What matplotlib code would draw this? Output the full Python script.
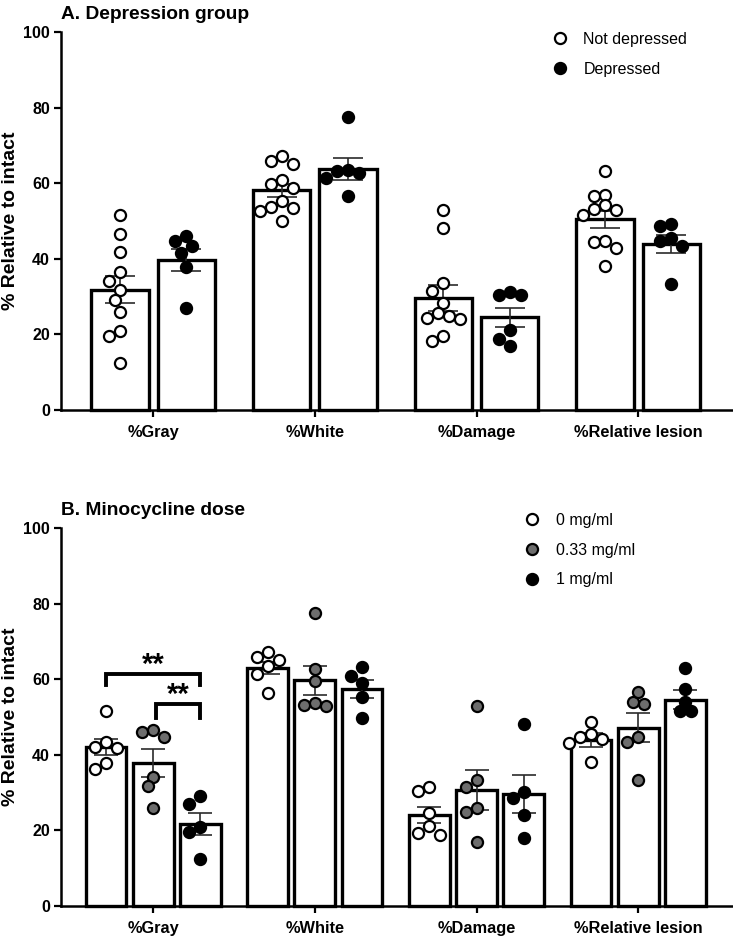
import numpy as np
import matplotlib
matplotlib.use('Agg')
import matplotlib.pyplot as plt
from matplotlib.lines import Line2D

BOLD_FAM = ['Liberation Sans', 'DejaVu Sans']
REG_FAM = ['Liberation Sans', 'DejaVu Sans']
plt.rcParams['font.family'] = REG_FAM

categories = ['%Gray', '%White', '%Damage', '%Relative lesion']
yticks = [0, 20, 40, 60, 80, 100]

# ---------------- Panel A: depression group ----------------
a_labels = ['Not depressed', 'Depressed']
a_nd_mean = [31.8, 58.1, 29.7, 50.4]
a_nd_sem = [3.6, 1.8, 3.4, 2.2]
a_d_mean = [39.7, 63.8, 24.5, 43.9]
a_d_sem = [2.9, 2.9, 2.6, 2.4]
a_nd_points = [
    [51.6, 46.6, 41.9, 36.5, 34.1, 31.7, 29.1, 25.8, 21.0, 19.7, 12.3],
    [67.3, 65.1, 65.8, 60.8, 59.9, 58.8, 55.3, 53.5, 53.7, 52.7, 50.1],
    [53.0, 48.1, 33.6, 31.4, 28.4, 25.7, 24.1, 24.3, 24.9, 18.3, 19.5],
    [63.1, 57.0, 56.5, 53.0, 51.6, 53.1, 54.1, 44.4, 42.9, 44.8, 38.2],
]
a_d_points = [
    [44.8, 46.1, 41.4, 43.5, 37.7, 26.9],
    [77.6, 63.6, 62.7, 63.3, 61.4, 56.5],
    [30.3, 31.3, 30.3, 21.2, 18.8, 17.0],
    [48.8, 49.3, 45.4, 43.5, 44.8, 33.3],
]

# ---------------- Panel B: minocycline dose ----------------
b_labels = ['0 mg/ml', '0.33 mg/ml', '1 mg/ml']
b0_mean = [42.1, 63.0, 24.1, 43.9]
b0_sem = [2.2, 1.6, 2.2, 1.9]
b033_mean = [37.9, 59.7, 30.7, 47.2]
b033_sem = [3.7, 3.9, 5.2, 3.8]
b1_mean = [21.7, 57.4, 29.6, 54.6]
b1_sem = [2.9, 2.3, 5.1, 2.5]
b0_points = [
    [51.6, 43.4, 41.7, 42.1, 37.7, 36.3],
    [65.8, 65.0, 67.2, 63.6, 61.3, 56.4],
    [30.3, 31.5, 24.5, 21.1, 18.8, 19.4],
    [48.7, 45.5, 44.3, 44.8, 43.0, 38.1],
]
b033_points = [
    [46.5, 44.8, 46.1, 34.2, 31.7, 25.8],
    [77.5, 62.7, 59.6, 53.0, 53.6, 53.3],
    [53.0, 33.4, 31.4, 25.8, 24.8, 17.0],
    [53.9, 56.5, 53.4, 44.8, 43.4, 33.3],
]
b1_points = [
    [29.1, 27.0, 21.0, 19.6, 12.3],
    [63.3, 60.9, 59.0, 55.3, 49.8],
    [48.1, 28.5, 30.2, 24.1, 18.1],
    [62.9, 57.3, 54.0, 51.5, 51.5],
]

# ---------------- figure ----------------
W, H = 733, 936
fig = plt.figure(figsize=(W / 100, H / 100), dpi=100)
axA = fig.add_axes([0.0832, 0.5620, 0.9154, 0.4038])
axB = fig.add_axes([0.0832, 0.0321, 0.9154, 0.4038])
XLIM = (-0.57, 3.58)
MS = 8.0
MEW = 1.6


def swarm(values, ax, diam_px=11.0):
    bbox = ax.get_window_extent()
    px_per_x = bbox.width / (XLIM[1] - XLIM[0])
    px_per_y = bbox.height / 100.0
    vals = np.asarray(values, dtype=float)
    order = np.argsort(-vals)
    placed = []
    offs = np.zeros(len(vals))
    cands = [0.0]
    for k in range(1, 8):
        cands += [-0.5 * k, 0.5 * k]
    for i in order:
        y = vals[i] * px_per_y
        chosen = 0.0
        for k in cands:
            ok = True
            for c, py in placed:
                if ((k - c) * diam_px) ** 2 + (y - py) ** 2 < (diam_px * 0.98) ** 2:
                    ok = False
                    break
            if ok:
                chosen = k
                break
        placed.append((chosen, y))
        offs[i] = chosen
    return offs * diam_px / px_per_x


def draw_group(ax, xs, means, sems, pts, width, face, capsize):
    ax.bar(xs, means, width=width, facecolor='white', edgecolor='black',
           linewidth=2.4, zorder=2, clip_on=False)
    ax.errorbar(xs, means, yerr=sems, fmt='none', ecolor='#2b2b2b',
                elinewidth=1.2, capsize=capsize, capthick=1.2, zorder=3)
    for x, p in zip(xs, pts):
        jit = swarm(p, ax)
        ax.plot(x + jit, p, linestyle='none', marker='o', markersize=MS,
                markerfacecolor=face, markeredgecolor='black',
                markeredgewidth=MEW, zorder=4, clip_on=False)


def style_axis(ax, title):
    ax.set_xlim(*XLIM)
    ax.set_ylim(0, 100)
    ax.set_yticks(yticks)
    ax.set_yticklabels([str(t) for t in yticks], family=BOLD_FAM,
                       fontweight='bold', fontsize=11.5)
    ax.set_xticks(np.arange(len(categories)))
    ax.set_xticklabels(categories, family=BOLD_FAM, fontweight='bold',
                       fontsize=11.8)
    for s in ['top', 'right']:
        ax.spines[s].set_visible(False)
    for s in ['left', 'bottom']:
        ax.spines[s].set_linewidth(1.8)
    ax.tick_params(axis='both', length=5, width=1.6, pad=3)
    ax.tick_params(axis='x', pad=6)
    ax.set_ylabel('% Relative to intact', family=REG_FAM, fontweight='bold',
                  fontsize=14)
    ax.yaxis.set_label_coords(-0.062, 0.5)
    ax.text(0.0, 1.034, title, transform=ax.transAxes, ha='left',
            va='baseline', family=BOLD_FAM, fontweight='bold', fontsize=13.8)


x = np.arange(len(categories))

# Panel A
style_axis(axA, 'A. Depression group')
wA, oA = 0.356, 0.205
draw_group(axA, x - oA, a_nd_mean, a_nd_sem, a_nd_points, wA, 'white', 10.5)
draw_group(axA, x + oA, a_d_mean, a_d_sem, a_d_points, wA, 'black', 10.5)
hA = [Line2D([], [], linestyle='none', marker='o', markersize=MS,
             markerfacecolor=f, markeredgecolor='black', markeredgewidth=MEW)
      for f in ['white', 'black']]
axA.legend(hA, a_labels, loc='upper left', bbox_to_anchor=(0.732, 1.0),
           frameon=False, borderpad=0, borderaxespad=0, handlelength=1.0,
           handletextpad=0.95, labelspacing=0.92, fontsize=11.5)

# Panel B
style_axis(axB, 'B. Minocycline dose')
wB, oB = 0.252, 0.292
draw_group(axB, x - oB, b0_mean, b0_sem, b0_points, wB, 'white', 8.3)
draw_group(axB, x, b033_mean, b033_sem, b033_points, wB, '#6d6d6d', 8.3)
draw_group(axB, x + oB, b1_mean, b1_sem, b1_points, wB, 'black', 8.3)
hB = [Line2D([], [], linestyle='none', marker='o', markersize=MS,
             markerfacecolor=f, markeredgecolor='black', markeredgewidth=MEW)
      for f in ['white', '#6d6d6d', 'black']]
axB.legend(hB, b_labels, loc='upper left', bbox_to_anchor=(0.6906, 1.04),
           frameon=False, borderpad=0, borderaxespad=0, handlelength=1.0,
           handletextpad=1.0, labelspacing=0.92, fontsize=11.5)

# significance brackets (Gray: 0 vs 1 mg/ml and 0.33 vs 1 mg/ml)
brackets = [(-oB, oB, 61.4, 58.5), (0.02, oB, 53.4, 49.7)]
for x0, x1, ytop, ybot in brackets:
    axB.plot([x0, x0, x1, x1], [ybot, ytop, ytop, ybot], color='black',
             linewidth=2.8, solid_joinstyle='miter', zorder=5)
    axB.text((x0 + x1) / 2, ytop + 0.2, '**', ha='center', va='baseline',
             family=REG_FAM, fontweight='bold', fontsize=21, zorder=5)

fig.savefig('out.png', dpi=100)
